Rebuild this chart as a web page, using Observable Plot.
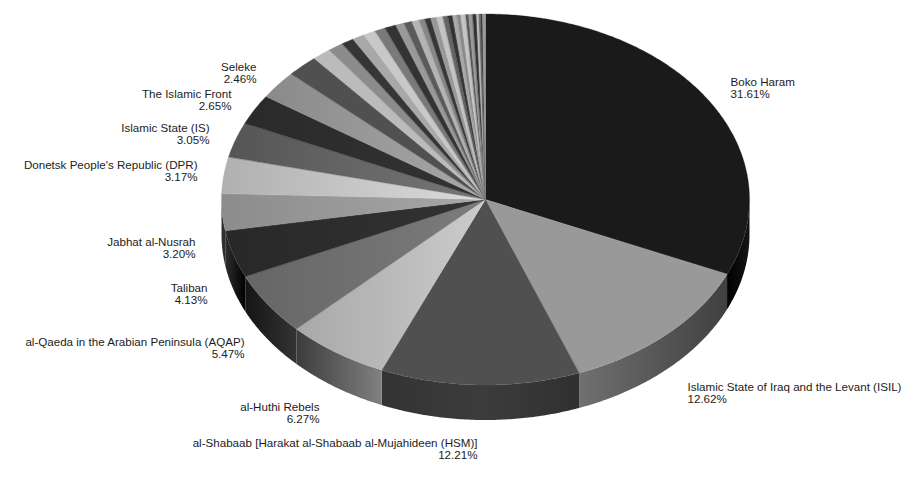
<!DOCTYPE html>
<html>
<head>
<meta charset="utf-8">
<script src="https://cdn.jsdelivr.net/npm/d3@7"></script>
<script src="https://cdn.jsdelivr.net/npm/@observablehq/plot@0.6"></script>
<style>html,body{margin:0;padding:0;background:#fff}svg{display:block}</style>
</head>
<body>
<div id="chart"></div>
<script>
// ---- data ----
const names = ["Boko Haram","Islamic State of Iraq and the Levant (ISIL)","al-Shabaab [Harakat al-Shabaab al-Mujahideen (HSM)]","al-Huthi Rebels","al-Qaeda in the Arabian Peninsula (AQAP)","Taliban","Jabhat al-Nusrah","Donetsk People's Republic (DPR)","Islamic State (IS)","The Islamic Front","Seleke"];
const namedShares = [31.61,12.62,12.21,6.27,5.47,4.13,3.20,3.17,3.05,2.65,2.46];
const otherShares = [1.92,1.15,0.95,0.77,0.75,0.74,0.66,0.70,0.52,0.50,0.44,0.36,0.37,0.37,0.37,0.30,0.30,0.25,0.24,0.30,0.18,0.24,0.24,0.12,0.12,0.12,0.18];

// ---- styling ----
const faceLeft  = ["#1a1a1a","#999999","#505050","#a8a8a8","#666666","#282828","#8c8c8c","#b0b0b0","#555555","#2a2a2a","#8a8a8a"];
const faceRight = ["#1a1a1a","#999999","#505050","#cccccc","#7c7c7c","#333333","#a8a8a8","#dcdcdc","#777777","#333333","#a8a8a8"];
const otherColors = ["#505050","#bbbbbb","#8c8c8c","#363636","#a8a8a8","#c8c8c8","#7a7a7a","#333333","#999999","#5a5a5a","#b4b4b4","#888888","#363636","#999999","#c4c4c4","#666666","#333333","#aaaaaa","#888888","#c4c4c4","#555555","#999999","#333333","#c4c4c4","#777777","#333333","#999999"];
const rimColors = [["#000000","#151515"],["#707070","#404040"],["#333333","#3c3c3c","#303030"],["#3c3c3c","#808080"],["#151515","#333333"],["#2e2e2e","#000000"],["#333333","#2a2a2a"]];
const labelLayout = [[730,76,"start"],[687,381,"start"],[477,437,"end"],[319,401,"end"],[244,336,"end"],[207,282,"end"],[195,236,"end"],[197,159,"end"],[209,122,"end"],[231,88,"end"],[256,61,"end"]];
const cx = 485.5, rx = 264, cy = 199.5, ry = 185.5, depth = 35;

// ---- geometry derived from the values ----
const shares = namedShares.concat(otherShares);
const total = d3.sum(shares);
let acc = 0;
const slices = shares.map((v, i) => {
  const a0 = acc / total * 2 * Math.PI; acc += v;
  const a1 = acc / total * 2 * Math.PI;
  return {i, a0, a1};
});
function arcPts(a0, a1) {
  const n = Math.max(2, Math.ceil((a1 - a0) / 0.01));
  return d3.range(n + 1).map(k => a0 + (a1 - a0) * k / n);
}
const fp = {x: a => Math.sin(a), y: a => Math.cos(a)};
const depthU = depth / ry;
const faceRows = slices.map(s => arcPts(s.a0, s.a1).map(a => ({x1: 0, y1: 0, x2: fp.x(a), y2: fp.y(a)})));
const rimRows = slices.filter(s => s.a0 < 1.5 * Math.PI && s.a1 > 0.5 * Math.PI).map(s => {
  const a0 = Math.max(s.a0, 0.5 * Math.PI), a1 = Math.min(s.a1, 1.5 * Math.PI);
  return {i: s.i, pts: arcPts(a0, a1).map(a => ({x1: fp.x(a), y1: fp.y(a), x2: fp.x(a), y2: fp.y(a) - depthU}))};
});
const scaleOpts = {
  x: {domain: [-1, 1], range: [cx - rx, cx + rx], axis: null},
  y: {domain: [-1, 1], range: [cy + ry, cy - ry], axis: null}
};
const faceFill = i => i < names.length ? `url(#face${i})` : otherColors[i - names.length];

const marks = [];
rimRows.forEach(r => marks.push(Plot.area(r.pts, {x1:"x1", y1:"y1", x2:"x2", y2:"y2", fill:`url(#rim${r.i})`, curve:"linear"})));
faceRows.forEach((rows, i) => marks.push(Plot.area(rows, {x1:"x1", y1:"y1", x2:"x2", y2:"y2", fill: faceFill(i), stroke: faceFill(i), strokeWidth: 0.3, curve:"linear"})));
names.forEach((n, i) => {
  const [px, py, anchor] = labelLayout[i];
  marks.push(Plot.text([`${n}\n${namedShares[i].toFixed(2)}%`], {
    text: d => d, frameAnchor: "top-left", dx: px, dy: py, textAnchor: anchor, lineAnchor: "top", lineHeight: 1.1, fill: "#1c1c1c"
  }));
});

const svg = Plot.plot({
  width: 912, height: 477, margin: 0, ...scaleOpts,
  style: {fontFamily: "'Liberation Sans', Arial, sans-serif", fontSize: "11.6px", background: "#fff", overflow: "visible"},
  marks
});

// gradients
const NS = "http://www.w3.org/2000/svg";
const defs = document.createElementNS(NS, "defs");
function grad(id, stops) {
  const g = document.createElementNS(NS, "linearGradient");
  g.setAttribute("id", id); g.setAttribute("x1", "0"); g.setAttribute("x2", "1"); g.setAttribute("y1", "0"); g.setAttribute("y2", "0");
  stops.forEach((c, k) => {
    const s = document.createElementNS(NS, "stop");
    s.setAttribute("offset", k / (stops.length - 1)); s.setAttribute("stop-color", c); g.appendChild(s);
  });
  defs.appendChild(g);
}
names.forEach((_, i) => grad(`face${i}`, [faceLeft[i], faceRight[i]]));
rimColors.forEach((c, i) => grad(`rim${i}`, c));
svg.insertBefore(defs, svg.firstChild);
document.getElementById("chart").appendChild(svg);
</script>
</body>
</html>
